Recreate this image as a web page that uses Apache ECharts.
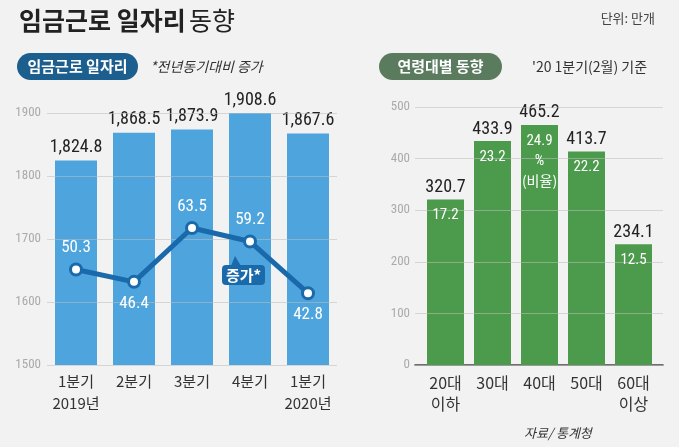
<!DOCTYPE html>
<html><head><meta charset="utf-8">
<script src="https://cdn.jsdelivr.net/npm/echarts@6/dist/echarts.min.js"></script>
<style>html,body{margin:0;padding:0;background:#f2f2f2}#c{width:679px;height:447px}</style>
</head><body><div id="c"></div>
<script>
const quarters = ['1분기\n2019년', '2분기', '3분기', '4분기', '1분기\n2020년'];
const jobs = [1824.8, 1868.5, 1873.9, 1908.6, 1867.6];
const increase = [50.3, 46.4, 63.5, 59.2, 42.8];
const increaseLabelPos = ['top', 'bottom', 'top', 'top', 'bottom'];
const leftTicks = [1500, 1600, 1700, 1800, 1900];
const ages = ['20대\n이하', '30대', '40대', '50대', '60대\n이상'];
const ageValues = [320.7, 433.9, 465.2, 413.7, 234.1];
const ageShares = [17.2, 23.2, 24.9, 22.2, 12.5];
const rightTicks = [0, 100, 200, 300, 400, 500];

const NUM = "'Roboto Condensed','DejaVu Sans Condensed','Liberation Sans Narrow','Roboto',sans-serif";
const KR = "'Noto Sans CJK KR',sans-serif";
const chart = echarts.init(document.getElementById('c'));
const fmtComma = v => { const s = v.toFixed(1).split('.'); return s[0].replace(/\B(?=(\d{3})+(?!\d))/g, ',') + '.' + s[1]; };

chart.setOption({
  backgroundColor: '#f2f2f2',
  animation: false,
  grid: [
    {left: 47, width: 290, top: 113, height: 252},
    {left: 422, width: 235, top: 107, height: 258},
    {left: 415, width: 248, top: 107, height: 258}
  ],
  xAxis: [
    {type: 'category', gridIndex: 0, data: quarters, axisLine: {show: false}, axisTick: {show: false},
     axisLabel: {interval: 0, margin: 5, fontSize: 15, lineHeight: 22, color: '#333', fontFamily: KR}},
    {type: 'category', gridIndex: 1, data: ages, axisLine: {show: false}, axisTick: {show: false},
     axisLabel: {interval: 0, margin: 7, fontSize: 16, lineHeight: 21, color: '#333', fontFamily: KR}},
    {type: 'value', gridIndex: 2, min: 0, max: 1, axisLine: {show: true, lineStyle: {color: '#444', width: 1.5}},
     axisTick: {show: false}, axisLabel: {show: false}, splitLine: {show: false}}
  ],
  yAxis: [
    {type: 'value', gridIndex: 0, min: leftTicks[0], max: leftTicks[leftTicks.length - 1], interval: 100, z: 3,
     axisLine: {show: false}, axisTick: {show: false},
     axisLabel: {margin: 6, fontSize: 13, color: '#aaa', fontFamily: NUM, formatter: v => String(v)},
     splitLine: {lineStyle: {color: 'rgba(190,190,190,0.55)', width: 1}}},
    {type: 'value', gridIndex: 0, min: 20, max: 100, show: false, splitLine: {show: false}},
    {type: 'value', gridIndex: 1, min: 0, max: 500, show: false, splitLine: {show: false}},
    {type: 'value', gridIndex: 2, min: rightTicks[0], max: rightTicks[rightTicks.length - 1], interval: 100, z: 3,
     axisLine: {show: false}, axisTick: {show: false},
     axisLabel: {margin: 5, fontSize: 13, color: '#aaa', fontFamily: NUM, formatter: v => String(v)},
     splitLine: {lineStyle: {color: 'rgba(190,190,190,0.55)', width: 1}}}
  ],
  series: [
    {type: 'bar', xAxisIndex: 0, yAxisIndex: 0, data: jobs, barWidth: 42, z: 2,
     itemStyle: {color: '#4ea4dd'},
     label: {show: true, position: 'top', distance: 4, fontSize: 18, color: '#222', fontFamily: NUM,
       formatter: p => fmtComma(p.value)}},
    {type: 'line', xAxisIndex: 0, yAxisIndex: 1, z: 5,
     data: increase.map((v, i) => ({value: v, label: {position: increaseLabelPos[i]}})),
     lineStyle: {color: '#1a6aab', width: 5},
     symbol: 'circle', symbolSize: 11,
     itemStyle: {color: '#ffffff', borderColor: '#1a6aab', borderWidth: 3},
     label: {show: true, distance: 6, fontSize: 17, color: '#ffffff', fontFamily: NUM}},
    {type: 'bar', xAxisIndex: 1, yAxisIndex: 2, data: ageValues, barWidth: 37, z: 2,
     itemStyle: {color: '#4c9a4c'},
     label: {show: true, position: 'top', distance: 3, fontSize: 18, color: '#222', fontFamily: NUM}},
    {type: 'bar', xAxisIndex: 1, yAxisIndex: 2, data: ageValues, barWidth: 37, barGap: '-100%', z: 4,
     itemStyle: {color: 'rgba(0,0,0,0)'},
     label: {show: true, position: 'insideTop', distance: 6, color: '#ffffff',
       formatter: p => p.dataIndex === 2 ? '{n|' + ageShares[p.dataIndex] + '}\n{n|%}\n{k|(비율)}' : '{n|' + ageShares[p.dataIndex] + '}',
       rich: {n: {fontSize: 15, lineHeight: 20, color: '#fff', fontFamily: NUM},
              k: {fontSize: 14, lineHeight: 20, color: '#fff', fontFamily: KR}}}}
  ],
  graphic: [
    {type: 'text', left: 19, top: 8, style: {
      text: '{b|임금근로 일자리} {n|동향}',
      rich: {b: {fontSize: 25, fontWeight: 'bold', fill: '#222', fontFamily: KR},
             n: {fontSize: 25, fontWeight: 'normal', fill: '#222', fontFamily: KR}}}},
    {type: 'text', right: 24, top: 12, style: {text: '단위: 만개', fontSize: 13, fill: '#444', fontFamily: KR}},
    {type: 'rect', shape: {x: 17, y: 53, width: 121, height: 27, r: 13.5}, style: {fill: '#1c5e8e'}},
    {type: 'text', x: 77.5, y: 66.5, style: {text: '임금근로 일자리', fontSize: 15, fontWeight: 'bold', fill: '#fff', fontFamily: KR, align: 'center', verticalAlign: 'middle'}},
    {type: 'text', x: 150, y: 66.5, style: {text: '*전년동기대비 증가', fontSize: 14, fill: '#333', fontFamily: KR, fontStyle: 'italic', verticalAlign: 'middle'}},
    {type: 'rect', shape: {x: 379, y: 53, width: 123, height: 27, r: 13.5}, style: {fill: '#5a7b5d'}},
    {type: 'text', x: 440.5, y: 66.5, style: {text: '연령대별 동향', fontSize: 15, fontWeight: 'bold', fill: '#fff', fontFamily: KR, align: 'center', verticalAlign: 'middle'}},
    {type: 'text', x: 532, y: 66.5, style: {text: "'20 1분기(2월) 기준", fontSize: 14, fill: '#333', fontFamily: KR, verticalAlign: 'middle'}},
    {type: 'polygon', z: 10, shape: {points: [[231, 266], [241, 266], [235, 256]]}, style: {fill: '#1a6aab'}},
    {type: 'rect', z: 10, shape: {x: 222, y: 265, width: 43, height: 20, r: 4}, style: {fill: '#1a6aab'}},
    {type: 'text', z: 11, x: 243.5, y: 275.5, style: {text: '증가*', fontSize: 15, fontWeight: 'bold', fill: '#fff', fontFamily: KR, align: 'center', verticalAlign: 'middle'}},
    {type: 'text', x: 524, y: 433, style: {text: '자료/ 통계청', fontSize: 13, fill: '#333', fontFamily: KR, fontStyle: 'italic', verticalAlign: 'middle'}}
  ]
});
</script></body></html>
